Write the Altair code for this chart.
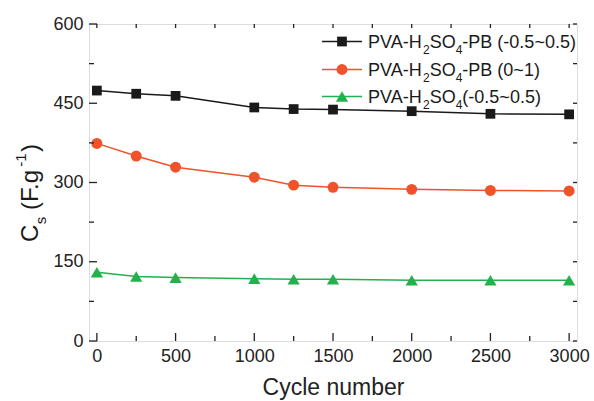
import altair as alt
import pandas as pd

# ---- data ----
cycles = [0, 250, 500, 1000, 1250, 1500, 2000, 2500, 3000]
pb_wide = [474, 468, 464, 442, 439, 438, 435, 430, 429]      # PVA-H2SO4-PB (-0.5~0.5)
pb_narrow = [374, 350, 329, 310, 295, 291, 287, 285, 284]    # PVA-H2SO4-PB (0~1)
plain = [130, 122, 120, 118, 117, 117, 115, 115, 115]        # PVA-H2SO4 (-0.5~0.5)
series_names = ["PVA-H2SO4-PB (-0.5~0.5)", "PVA-H2SO4-PB (0~1)", "PVA-H2SO4(-0.5~0.5)"]
series_tails = ["-PB (-0.5~0.5)", "-PB (0~1)", "(-0.5~0.5)"]
colors = ["#1a1a1a", "#F0522A", "#23B14D"]
shapes = ["square", "circle", "triangle-up"]
sizes = [95, 120, 150]

x_major = [0, 500, 1000, 1500, 2000, 2500, 3000]
x_minor = [250, 750, 1250, 1750, 2250, 2750]
y_major = [0, 150, 300, 450, 600]
y_minor = [75, 225, 375, 525]

W, H = 488, 317
FONT = "Liberation Sans"

rows = []
for name, vals in zip(series_names, [pb_wide, pb_narrow, plain]):
    for c, v in zip(cycles, vals):
        rows.append({"series": name, "cycle": c, "cs": v})
df = pd.DataFrame(rows)

xs = alt.Scale(domain=[-50, 3050], nice=False, zero=False)
ys = alt.Scale(domain=[0, 600], nice=False)

layers = []
# data lines and points
for i, name in enumerate(series_names):
    sub = df[df.series == name]
    base = alt.Chart(sub).encode(
        x=alt.X("cycle:Q", scale=xs,
                axis=alt.Axis(values=x_major, format="d", ticks=False, domain=False, grid=False,
                              labelFontSize=18, labelFont=FONT, labelColor="#222",
                              labelPadding=6, title="Cycle number", titleFont=FONT,
                              titleFontSize=23, titleFontWeight="normal", titleColor="#222",
                              titlePadding=11)),
        y=alt.Y("cs:Q", scale=ys,
                axis=alt.Axis(values=y_major, format="d", ticks=False, domain=False, grid=False,
                              labelFontSize=18, labelFont=FONT, labelColor="#222",
                              labelPadding=6, title=None)),
    )
    layers.append(base.mark_line(color=colors[i], strokeWidth=1.5))
    layers.append(base.mark_point(shape=shapes[i], size=sizes[i], filled=True,
                                  color=colors[i], opacity=1))

# inward ticks
def xticks(vals, length, top=False):
    d = pd.DataFrame({"v": vals})
    if top:
        return alt.Chart(d).mark_rule(color="#222", strokeWidth=1.3).encode(
            x=alt.X("v:Q", scale=xs), y=alt.value(0), y2=alt.value(length))
    return alt.Chart(d).mark_rule(color="#222", strokeWidth=1.3).encode(
        x=alt.X("v:Q", scale=xs), y=alt.value(H), y2=alt.value(H - length))

def yticks(vals, length, right=False):
    d = pd.DataFrame({"v": vals})
    if right:
        return alt.Chart(d).mark_rule(color="#222", strokeWidth=1.3).encode(
            y=alt.Y("v:Q", scale=ys), x=alt.value(W), x2=alt.value(W - length))
    return alt.Chart(d).mark_rule(color="#222", strokeWidth=1.3).encode(
        y=alt.Y("v:Q", scale=ys), x=alt.value(0), x2=alt.value(length))

layers += [xticks(x_major, 8), xticks(x_minor, 5), xticks(x_major, 4, True), xticks(x_minor, 4, True),
           yticks(y_major, 8), yticks(y_minor, 5), yticks(y_major, 4, True), yticks(y_minor, 4, True)]

# legend (manual, with subscripts)
dummy = pd.DataFrame({"a": [0]})
row_y = [17.5, 45.5, 72.5]
fs, ss = 18, 12
def w(units, size):
    return units * size / 1000.0
for i in range(3):
    ry = row_y[i]
    layers.append(alt.Chart(dummy).mark_rule(color=colors[i], strokeWidth=1.5).encode(
        x=alt.value(233), x2=alt.value(273), y=alt.value(ry)))
    layers.append(alt.Chart(dummy).mark_point(shape=shapes[i], size=sizes[i], filled=True,
                                              color=colors[i], opacity=1).encode(
        x=alt.value(253), y=alt.value(ry)))
    x0 = 279
    bl = ry + 6.5
    pieces = [("PVA-H", fs, 0, 3056), ("2", ss, 6, 556), ("SO", fs, 0, 1445), ("4", ss, 6, 556),
              (series_tails[i], fs, 0, None)]
    cx = x0
    for txt, size, dy, units in pieces:
        layers.append(alt.Chart(dummy).mark_text(text=txt, font=FONT, fontSize=size, color="#1a1a1a",
                                                 align="left", baseline="alphabetic").encode(
            x=alt.value(cx), y=alt.value(bl + dy)))
        if units is not None:
            cx += w(units, size)

# y-axis title with subscript / superscript, rotated (reads bottom to top)
# (text, size, baseline shift, advance units, gap before in px)
ypieces = [("C", 24, 0, 722, 0), ("s", 15, 8, 500, 0.5), ("(F.g", 24, 0, 333 + 611 + 278 + 556, 6.7),
           ("-1", 15, -12, 333 + 556, 0.5), (")", 24, 0, 333, 1.5)]
cy = 218
for txt, size, dx, units, gap in ypieces:
    cy -= gap
    layers.append(alt.Chart(dummy).mark_text(text=txt, font=FONT, fontSize=size, color="#1a1a1a",
                                             align="left", baseline="alphabetic", angle=270).encode(
        x=alt.value(-51 + dx), y=alt.value(cy)))
    cy -= w(units, size)

chart = alt.layer(*layers).properties(
    width=W, height=H,
    autosize=alt.AutoSizeParams(type="none"),
    padding={"left": 89, "top": 24, "right": 17, "bottom": 60},
).configure_view(stroke="#222", strokeWidth=1.6).configure(background="white")

chart.save("out.html", embed_options={"renderer": "svg", "actions": False})
